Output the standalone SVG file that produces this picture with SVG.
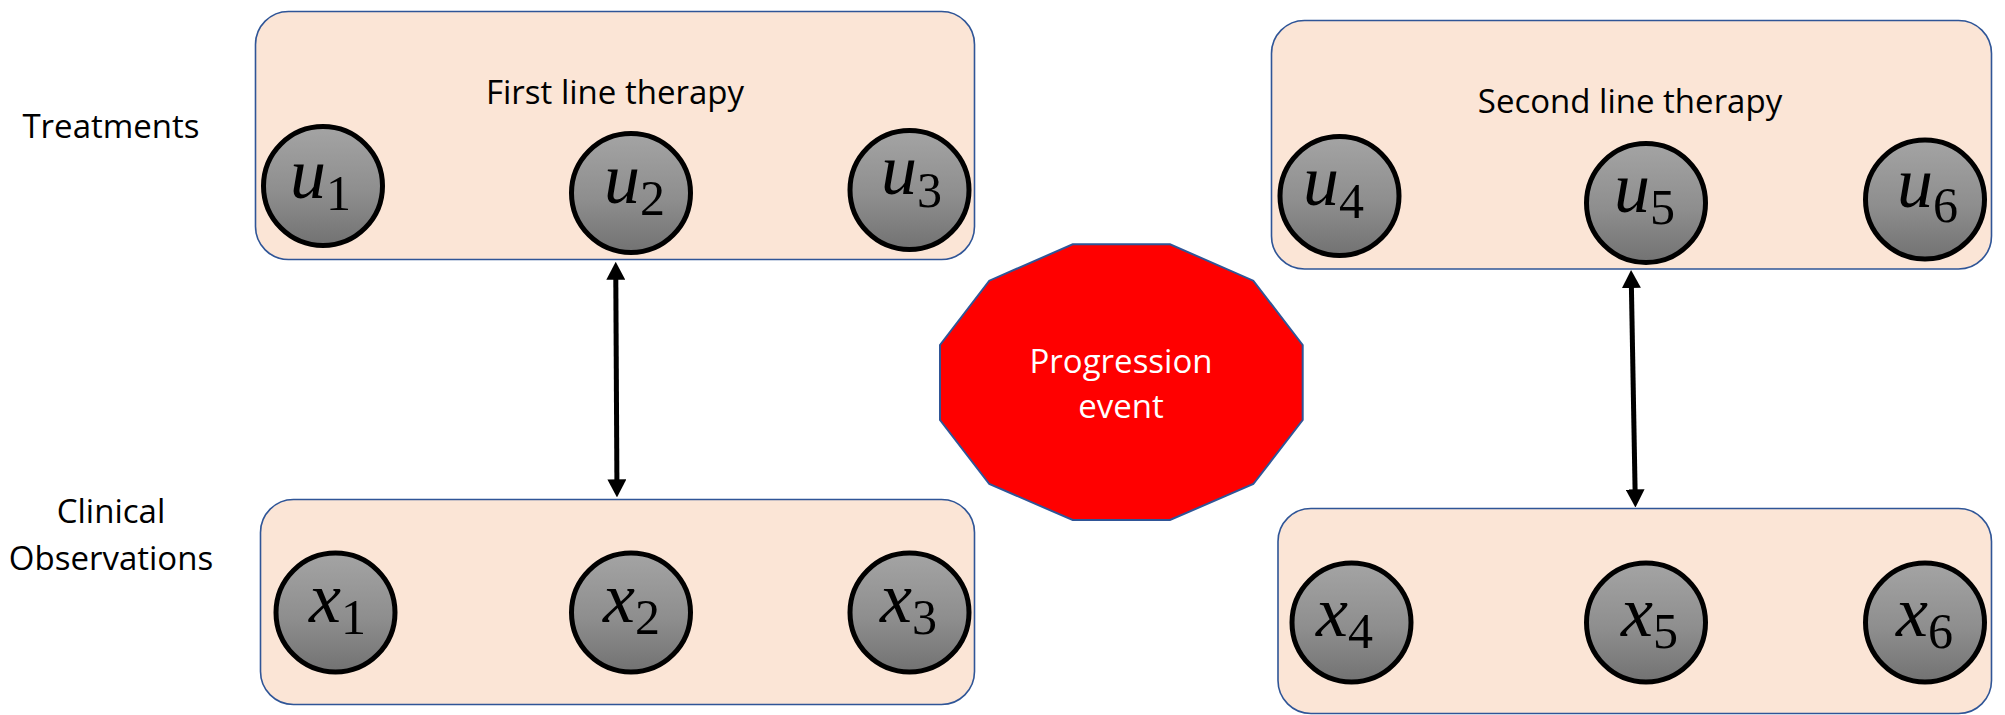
<svg xmlns="http://www.w3.org/2000/svg" width="2005" height="715" viewBox="0 0 2005 715">
<defs>
<linearGradient id="gr" x1="0" y1="0" x2="0" y2="1">
<stop offset="0" stop-color="#a4a4a4"/>
<stop offset="0.55" stop-color="#8e8e8e"/>
<stop offset="1" stop-color="#727272"/>
</linearGradient>
<marker id="ah" viewBox="0 0 18 19" markerWidth="18" markerHeight="19" markerUnits="userSpaceOnUse" refX="1" refY="9.5" orient="auto-start-reverse">
<path d="M0,0 L18,9.5 L0,19 z" fill="#000"/>
</marker>
<style>
.box{fill:#FBE5D6;stroke:#2F5597;stroke-width:1.6}
.nd{fill:url(#gr);stroke:#000;stroke-width:5}
.lbl{font-family:'Open Sans','Noto Sans',sans-serif;font-size:33px;fill:#000}
.conn{stroke:#000;stroke-width:5;fill:none}
</style>
</defs>
<rect width="2005" height="715" fill="#fff"/>

<g id="label-treatments"><text class="lbl" x="111" y="138" text-anchor="middle">Treatments</text></g>
<g id="label-clinical"><text class="lbl" x="111" y="523" text-anchor="middle">Clinical</text><text class="lbl" x="111" y="570" text-anchor="middle">Observations</text></g>

<g id="first-line">
<rect class="box" x="255.5" y="11.5" width="719" height="248" rx="33" ry="33"/>
<text class="lbl" x="615" y="104" text-anchor="middle">First line therapy</text>
</g>
<g id="second-line">
<rect class="box" x="1271.5" y="20.5" width="720" height="248.5" rx="33" ry="33"/>
<text class="lbl" x="1630" y="113" text-anchor="middle">Second line therapy</text>
</g>
<g id="obs-1">
<rect class="box" x="260.5" y="499.5" width="714" height="205" rx="33" ry="33"/>
</g>
<g id="obs-2">
<rect class="box" x="1278" y="508.5" width="713.5" height="205" rx="33" ry="33"/>
</g>

<g font-family="Liberation Serif, serif" font-size="72">
<g id="u1"><circle class="nd" cx="323" cy="186" r="59.5"/><text font-style="italic" x="290" y="198">u<tspan font-style="normal" font-size="50" dy="12">1</tspan></text></g>
<g id="u2"><circle class="nd" cx="631" cy="193" r="59.5"/><text font-style="italic" x="604" y="203">u<tspan font-style="normal" font-size="50" dy="12">2</tspan></text></g>
<g id="u3"><circle class="nd" cx="909.5" cy="190" r="59.5"/><text font-style="italic" x="881" y="194">u<tspan font-style="normal" font-size="50" dy="13">3</tspan></text></g>
<g id="u4"><circle class="nd" cx="1339.5" cy="196" r="59.5"/><text font-style="italic" x="1303" y="205">u<tspan font-style="normal" font-size="50" dy="13">4</tspan></text></g>
<g id="u5"><circle class="nd" cx="1646" cy="203" r="59.5"/><text font-style="italic" x="1614" y="212">u<tspan font-style="normal" font-size="50" dy="12">5</tspan></text></g>
<g id="u6"><circle class="nd" cx="1925" cy="199.5" r="59.5"/><text font-style="italic" x="1897" y="207">u<tspan font-style="normal" font-size="50" dy="15">6</tspan></text></g>

<g id="x1"><circle class="nd" cx="335.5" cy="612.5" r="59.5"/><text font-style="italic" x="309" y="622">x<tspan font-style="normal" font-size="50" dy="12">1</tspan></text></g>
<g id="x2"><circle class="nd" cx="631" cy="612.5" r="59.5"/><text font-style="italic" x="603" y="622">x<tspan font-style="normal" font-size="50" dy="12">2</tspan></text></g>
<g id="x3"><circle class="nd" cx="909.5" cy="612.5" r="59.5"/><text font-style="italic" x="880" y="622">x<tspan font-style="normal" font-size="50" dy="12">3</tspan></text></g>
<g id="x4"><circle class="nd" cx="1351.5" cy="622.5" r="59.5"/><text font-style="italic" x="1316" y="636">x<tspan font-style="normal" font-size="50" dy="12">4</tspan></text></g>
<g id="x5"><circle class="nd" cx="1646" cy="622.5" r="59.5"/><text font-style="italic" x="1621" y="636">x<tspan font-style="normal" font-size="50" dy="12">5</tspan></text></g>
<g id="x6"><circle class="nd" cx="1925" cy="622.5" r="59.5"/><text font-style="italic" x="1896" y="636">x<tspan font-style="normal" font-size="50" dy="12">6</tspan></text></g>
</g>

<g id="progression">
<polygon points="1072.7,244.3 1170,244.3 1253.3,280.7 1302.7,345 1302.7,420 1253.3,484 1170,520 1072.7,520 989.3,484 940,420 940,345 989.3,280.7" fill="#FF0000" stroke="#2F5597" stroke-width="2"/>
<text class="lbl" x="1121" y="373" text-anchor="middle" style="fill:#fff">Progression</text>
<text class="lbl" x="1121" y="418" text-anchor="middle" style="fill:#fff">event</text>
</g>

<g id="connectors">
<line class="conn" x1="615.8" y1="278.8" x2="616.9" y2="480.4" marker-start="url(#ah)" marker-end="url(#ah)"/>
<line class="conn" x1="1631.4" y1="287" x2="1635.1" y2="490.4" marker-start="url(#ah)" marker-end="url(#ah)"/>
</g>
</svg>
